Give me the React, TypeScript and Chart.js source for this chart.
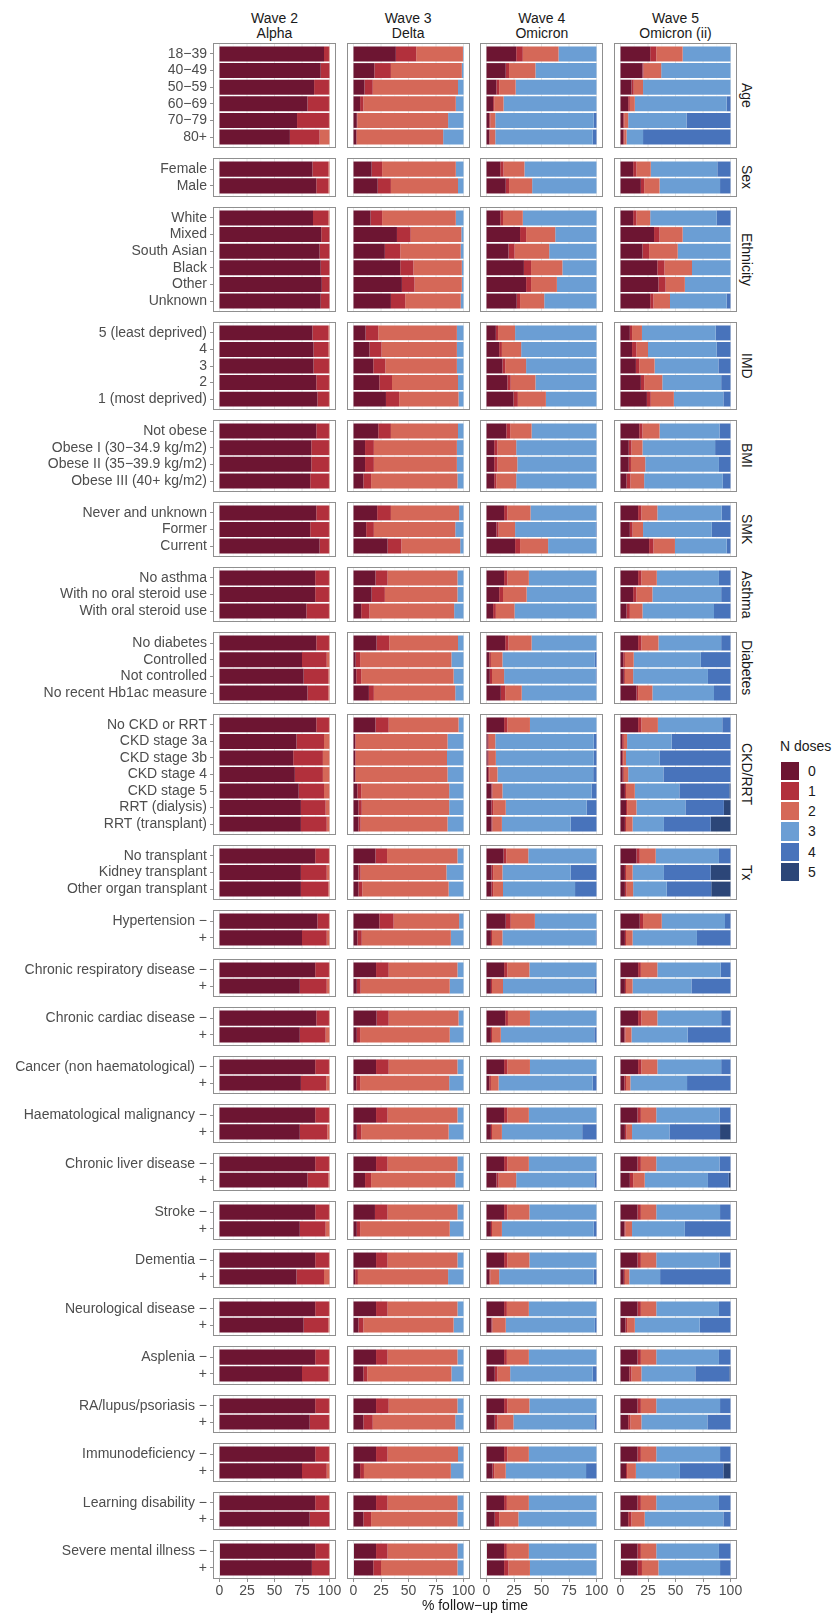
import React, { useEffect, useRef } from "react";
import { Chart, registerables } from "chart.js";

Chart.register(...registerables);

// ---------------- data ----------------
const WAVE_TITLES: string[][] = [
  ["Wave 2", "Alpha"],
  ["Wave 3", "Delta"],
  ["Wave 4", "Omicron"],
  ["Wave 5", "Omicron (ii)"],
];

const GROUP_NAMES: string[] = [
  "Age", "Sex", "Ethnicity", "IMD", "BMI", "SMK", "Asthma", "Diabetes", "CKD/RRT", "Tx",
  "", "", "", "", "", "", "", "", "", "", "", "", "", "",
];

const GROUP_SIZES: number[] = [6, 2, 6, 5, 4, 3, 3, 4, 7, 3, 2, 2, 2, 2, 2, 2, 2, 2, 2, 2, 2, 2, 2, 2];

const ROW_LABELS: string[] = [
  "18−39", "40−49", "50−59", "60−69", "70−79", "80+",
  "Female", "Male",
  "White", "Mixed", "South Asian", "Black", "Other", "Unknown",
  "5 (least deprived)", "4", "3", "2", "1 (most deprived)",
  "Not obese", "Obese I (30−34.9 kg/m2)", "Obese II (35−39.9 kg/m2)", "Obese III (40+ kg/m2)",
  "Never and unknown", "Former", "Current",
  "No asthma", "With no oral steroid use", "With oral steroid use",
  "No diabetes", "Controlled", "Not controlled", "No recent Hb1ac measure",
  "No CKD or RRT", "CKD stage 3a", "CKD stage 3b", "CKD stage 4", "CKD stage 5", "RRT (dialysis)", "RRT (transplant)",
  "No transplant", "Kidney transplant", "Other organ transplant",
  "Hypertension −", "+",
  "Chronic respiratory disease −", "+",
  "Chronic cardiac disease −", "+",
  "Cancer (non haematological) −", "+",
  "Haematological malignancy −", "+",
  "Chronic liver disease −", "+",
  "Stroke −", "+",
  "Dementia −", "+",
  "Neurological disease −", "+",
  "Asplenia −", "+",
  "RA/lupus/psoriasis −", "+",
  "Immunodeficiency −", "+",
  "Learning disability −", "+",
  "Severe mental illness −", "+",
];

const DOSE_LABELS: string[] = ["0", "1", "2", "3", "4", "5"];
const DOSE_COLORS: string[] = ["#6d1532", "#b2303c", "#d56858", "#6b9ed4", "#4873bb", "#2c4678"];
const X_TICKS: number[] = [0, 25, 50, 75, 100];
const X_MINOR: number[] = [12.5, 37.5, 62.5, 87.5];
const X_TITLE = "% follow−up time";
const LEGEND_TITLE = "N doses";

// % follow-up time spent with 0..5 doses, one row per category (order of ROW_LABELS)
const WAVE2: number[][] = [
  [95, 4.5, 0.5], [92, 8], [86, 13.5, 0.5], [80, 19.5, 0.5], [70.5, 29, 0.5], [64, 27, 9],
  [84.5, 14.5, 1], [88, 11, 1],
  [85, 14, 1], [92.5, 7.5], [91, 9], [92, 8], [93, 7], [92, 8],
  [84.5, 14.5, 1], [85.5, 13.5, 1], [85.5, 14, 0.5], [88, 11.5, 0.5], [89, 10.5, 0.5],
  [88, 11.5, 0.5], [83.5, 16, 0.5], [83.5, 16, 0.5], [82.5, 17, 0.5],
  [88, 11.5, 0.5], [82.5, 17, 0.5], [91, 8.5, 0.5],
  [87, 12.5, 0.5], [87, 12.5, 0.5], [79, 20.5, 0.5],
  [88, 11.5, 0.5], [75, 22.5, 2.5], [76.5, 22.5, 1], [80, 19, 1],
  [88, 11.5, 0.5], [70, 25, 5], [67, 27, 6], [68.5, 25.5, 6], [72, 23, 5], [74, 22.5, 3.5], [74, 23.5, 2.5],
  [87, 12.5, 0.5], [74, 23.5, 2.5], [74, 25, 1],
  [89, 10.5, 0.5], [75, 22.5, 2.5],
  [87, 12.5, 0.5], [73, 24.5, 2.5],
  [88, 11.5, 0.5], [73, 23.5, 3.5],
  [87, 12.5, 0.5], [74, 23, 3],
  [87, 12.5, 0.5], [73, 25, 2],
  [87, 12.5, 0.5], [80, 19, 1],
  [87, 12.5, 0.5], [73, 23.5, 3.5],
  [87, 12.5, 0.5], [70, 25, 5],
  [87, 12.5, 0.5], [76.5, 22.5, 1],
  [87, 12.5, 0.5], [75, 24, 1],
  [87, 12.5, 0.5], [82, 17.5, 0.5],
  [87, 12.5, 0.5], [75, 22.5, 2.5],
  [87, 12.5, 0.5], [82, 18],
  [87, 12.5, 0.5], [84, 16],
];

const WAVE3: number[][] = [
  [38.5, 18.5, 42.5, 0.5], [19, 15, 64.5, 1.5], [10, 7.5, 77.5, 5], [6, 3, 84, 7], [3, 0.5, 82.5, 14], [2.5, 0.5, 78.5, 18.5],
  [16.5, 9.5, 67, 7], [22, 12, 61, 5],
  [15.5, 10.5, 67, 7], [39.5, 12.5, 46, 2], [28.5, 14, 55, 2.5], [42.5, 12, 44, 1.5], [44, 11.5, 43, 1.5], [34, 13, 50.5, 2.5],
  [11, 11.5, 71.5, 6], [14.5, 11, 68.5, 6], [18, 11, 65, 6], [23.5, 11.5, 60, 5], [29.5, 12, 54, 4.5],
  [22.5, 11.5, 61, 5], [10.5, 8, 75.5, 6], [10.5, 8, 75.5, 6], [9, 7, 78.5, 5.5],
  [21.5, 12.5, 62, 4], [11.5, 7, 74, 7.5], [31, 12.5, 53.5, 3],
  [20, 11, 63.5, 5.5], [16.5, 12, 66, 5.5], [7, 7.5, 77, 8.5],
  [21, 11.5, 62.5, 5], [2, 4, 83, 11], [2.5, 4.5, 84, 9], [14, 4.5, 74, 7.5],
  [20, 12, 63.5, 4.5], [1.5, 0.5, 83.5, 14.5], [1.5, 0.5, 83, 15], [1.5, 0.5, 83.5, 14.5], [3.5, 3.5, 80, 13], [4.5, 3, 79.5, 13], [4.5, 2, 79, 14.5],
  [20, 10.5, 64, 5.5], [4.5, 2, 78, 15.5], [4.5, 3.5, 78.5, 13.5],
  [23.5, 13, 59.5, 4], [3.5, 4, 81, 11.5],
  [20.5, 11.5, 62.5, 5.5], [3, 3.5, 81, 12.5],
  [21, 11, 63.5, 4.5], [3, 3, 81.5, 12.5],
  [20.5, 11.5, 62.5, 5.5], [2.5, 3.5, 81, 13],
  [20.5, 10.5, 63.5, 5.5], [3, 4, 79.5, 13.5],
  [20.5, 10.5, 63.5, 5.5], [10.5, 5.5, 76.5, 7.5],
  [19.5, 11.5, 63.5, 5.5], [3, 3, 81.5, 12.5],
  [20.5, 10.5, 63.5, 5.5], [1.5, 2.5, 82, 14],
  [20.5, 10.5, 63.5, 5.5], [4.5, 4.5, 82, 9],
  [20.5, 10.5, 63.5, 5.5], [9, 3.5, 76.5, 11],
  [20.5, 11.5, 62.5, 5.5], [9, 8.5, 75, 7.5],
  [20.5, 10.5, 64, 5], [6, 3.5, 79, 11.5],
  [20.5, 10.5, 63.5, 5.5], [9, 7, 78.5, 5.5],
  [20.5, 10.5, 63.5, 5.5], [18, 7, 69.5, 5.5],
];

const WAVE4: number[][] = [
  [27, 6, 32.5, 34.5], [17.5, 3, 24, 55.5], [9, 2.5, 15, 73.5], [6, 1, 8.5, 84.5], [2.5, 1, 4.5, 89.5, 2.5], [2.5, 0.5, 5, 88.5, 3.5],
  [12.5, 3, 19, 65.5], [17.5, 3, 21, 58.5],
  [12.5, 2.5, 18, 67], [30.5, 5.5, 26.5, 37.5], [20, 5.5, 31.5, 43], [34, 6.5, 28.5, 31], [36, 4.5, 23.5, 36], [27.5, 3, 22, 47.5],
  [8.5, 2, 15.5, 74], [11.5, 2.5, 17.5, 68.5], [14.5, 2.5, 19, 64], [19, 3, 22.5, 55.5], [24.5, 4, 25.5, 46],
  [18, 3.5, 19.5, 59], [7, 3, 17, 73], [7, 3, 18, 72], [7, 2, 18, 73],
  [16, 3, 21, 60], [9, 2, 15, 73.5, 0.5], [26, 4.5, 25.5, 44],
  [16, 3, 19.5, 61.5], [11.5, 3.5, 21.5, 63.5], [6, 2.5, 17, 74, 0.5],
  [17, 3, 21, 59], [2.5, 1.5, 10.5, 84, 1.5], [3, 2, 11, 83.5, 0.5], [13, 4, 15, 68],
  [16, 3, 20.5, 60.5], [1, 1, 6, 89.5, 2.5], [1, 1, 6.5, 89, 2.5], [1.5, 1, 7.5, 87, 3], [4.5, 1, 9, 81, 4.5], [4.5, 1.5, 11.5, 73.5, 9], [4.5, 1, 8.5, 62.5, 23.5],
  [15.5, 2.5, 20, 62], [4.5, 1.5, 8.5, 62, 23.5], [4.5, 1.5, 9, 65.5, 19.5],
  [17.5, 4.5, 22, 56], [4, 1, 9.5, 85, 0.5],
  [16, 3, 20, 61], [4, 1, 10, 83, 2],
  [17, 2.5, 20, 60.5], [4, 1, 8, 85, 2],
  [16, 3, 20.5, 60.5], [2.5, 1.5, 7, 85.5, 3.5],
  [16, 3, 19.5, 61.5], [4, 1, 9, 73, 13],
  [16, 3, 19.5, 61.5], [9, 2, 16, 71, 2],
  [16, 3, 20, 61], [4, 1, 9, 83.5, 2.5],
  [16, 3, 20, 61], [2.5, 1, 8, 86, 2.5],
  [16, 2.5, 20, 61.5], [4.5, 1, 12, 81, 1.5],
  [16, 2.5, 20, 61.5], [7.5, 2.5, 11.5, 75, 3.5],
  [16, 3, 20, 61], [7.5, 2.5, 14.5, 73.5, 2],
  [16, 3, 19.5, 61.5], [5.5, 1.5, 10.5, 73, 9.5],
  [16, 2.5, 20, 61.5], [7.5, 4, 17.5, 71],
  [16, 2.5, 20, 61.5], [16, 4, 19.5, 60.5],
];

const WAVE5: number[][] = [
  [27, 5.5, 24, 43.5], [20, 1, 16, 63], [10, 2, 8.5, 79.5], [7, 1.5, 4.5, 83.5, 3.5], [2.5, 1, 3.5, 53, 40], [2.5, 1, 2, 15, 79.5],
  [11.5, 3, 13, 60.5, 12], [18.5, 3, 14, 55, 9.5],
  [11.5, 3, 12.5, 60.5, 12.5], [30.5, 5, 21, 43.5], [20, 6, 26, 48], [33.5, 6.5, 25, 35], [34.5, 6.5, 17.5, 41.5], [27, 3, 15, 51.5, 3.5],
  [8.5, 2, 9, 67, 13.5], [10.5, 4, 10.5, 62.5, 12.5], [14, 3, 14, 58, 11], [18.5, 3, 16.5, 53.5, 8.5], [24, 3.5, 21, 45, 6.5],
  [17, 3, 15.5, 54.5, 10], [7.5, 2.5, 10, 66, 14], [7.5, 2, 13, 67, 10.5], [5.5, 3.5, 12.5, 71.5, 7],
  [16, 3, 14.5, 58.5, 8], [8.5, 2.5, 9.5, 62.5, 17], [26, 4, 19.5, 47, 3.5],
  [16, 3, 14, 56.5, 10.5], [11.5, 3, 14.5, 62.5, 8.5], [5.5, 3, 11.5, 65, 15],
  [16, 3, 15.5, 57, 8.5], [2.5, 1.5, 8, 61, 27], [3, 1, 7.5, 68, 20.5], [14.5, 1.5, 13, 56, 15],
  [16, 3, 15, 58.5, 7.5], [1.5, 1.5, 3, 40.5, 53.5], [1.5, 1, 2.5, 30.5, 64.5], [2, 1, 4, 32, 61], [4, 1, 8, 40.5, 45.5, 1], [5, 1, 8.5, 44.5, 35, 6], [4, 1, 6, 28.5, 42.5, 18],
  [14.5, 3, 14.5, 57.5, 10.5], [4, 1, 6, 28.5, 42.5, 18], [4, 1.5, 6, 30.5, 40.5, 17.5],
  [17.5, 3, 17, 57.5, 5], [4, 1, 6, 58.5, 30.5],
  [16, 2.5, 15, 57.5, 9], [4, 1, 6, 53.5, 35.5],
  [16, 3, 14.5, 58, 8.5], [3.5, 1, 5.5, 51, 39],
  [16, 3, 14.5, 58, 8.5], [3.5, 1.5, 4, 51.5, 39.5],
  [15.5, 3, 14, 57.5, 10], [4, 1.5, 5, 34, 46, 9.5],
  [15.5, 3, 14, 57.5, 10], [8.5, 3, 10.5, 57.5, 19, 1.5],
  [15.5, 3, 14, 58, 9.5], [3.5, 1, 6, 48, 41.5],
  [15.5, 3, 14, 57.5, 10], [3, 1, 4, 28, 64],
  [15.5, 3, 14, 57, 10.5], [4.5, 1.5, 7, 59, 28],
  [15.5, 3, 14, 57, 10.5], [8, 2, 9, 49, 31, 1],
  [15.5, 3, 14, 58, 9.5], [7, 2, 10, 60, 21],
  [15.5, 3, 14, 58, 9.5], [5, 1, 8, 40, 39.5, 6.5],
  [15.5, 3, 14, 57, 10.5], [7, 3, 12, 71.5, 6.5],
  [15.5, 3, 14, 57, 10.5], [15.5, 4, 15, 56, 9.5],
];

const WAVE_DATA: number[][][] = [WAVE2, WAVE3, WAVE4, WAVE5];

// ---------------- layout ----------------
const FONT = "'Liberation Sans', Arial, Helvetica, sans-serif";
const PANEL_TOP = 44.3;
const ROW_PITCH = 16.62;
const PANEL_GAP = 11.9;
const COL_LEFT0 = 214;
const COL_PITCH = 133.67;
const PANEL_W = 121;
const AXIS_H = 24;
const AXIS_SIDE = 14;
const X_MIN = -5;
const X_MAX = 105;
const TEXT_DARK = "#1a1a1a";
const TEXT_AXIS = "#4d4d4d";
const FRAME = "#8f8f8f";

const GROUP_STARTS: number[] = [];
const GROUP_TOPS: number[] = [];
const GROUP_BOTTOMS: number[] = [];
(() => {
  let y = PANEL_TOP;
  let s = 0;
  GROUP_SIZES.forEach((n) => {
    GROUP_STARTS.push(s);
    GROUP_TOPS.push(y);
    const b = y + (n + 0.2) * ROW_PITCH;
    GROUP_BOTTOMS.push(b);
    y = b + PANEL_GAP;
    s += n;
  });
})();

const framePlugin = {
  id: "panelFrame",
  beforeDatasetsDraw(chart: any) {
    const { ctx, chartArea: a, scales } = chart;
    const x = scales.x;
    ctx.save();
    ctx.beginPath();
    ctx.rect(a.left, a.top, a.right - a.left, a.bottom - a.top);
    ctx.clip();
    ctx.strokeStyle = "#f3f3f3";
    ctx.lineWidth = 0.6;
    X_MINOR.forEach((v) => {
      const px = x.getPixelForValue(v);
      ctx.beginPath();
      ctx.moveTo(px, a.top);
      ctx.lineTo(px, a.bottom);
      ctx.stroke();
    });
    ctx.strokeStyle = "#e6e6e6";
    ctx.lineWidth = 1;
    X_TICKS.forEach((v) => {
      const px = x.getPixelForValue(v);
      ctx.beginPath();
      ctx.moveTo(px, a.top);
      ctx.lineTo(px, a.bottom);
      ctx.stroke();
    });
    ctx.restore();
  },
  afterDatasetsDraw(chart: any) {
    const { ctx, chartArea: a } = chart;
    ctx.save();
    ctx.strokeStyle = FRAME;
    ctx.lineWidth = 1;
    ctx.strokeRect(a.left - 0.5, a.top - 0.5, a.right - a.left + 1, a.bottom - a.top + 1);
    ctx.restore();
  },
};

function Panel({ wave, group }: { wave: number; group: number }) {
  const ref = useRef<HTMLCanvasElement | null>(null);
  const n = GROUP_SIZES[group];
  const start = GROUP_STARTS[group];
  const isFirst = wave === 0;
  const isLast = group === GROUP_SIZES.length - 1;
  const side = isLast ? AXIS_SIDE : 0;
  const t = Math.round(GROUP_TOPS[group]);
  const b = Math.round(GROUP_BOTTOMS[group]);
  const l = Math.round(COL_LEFT0 + wave * COL_PITCH);
  const r = Math.round(COL_LEFT0 + wave * COL_PITCH + PANEL_W);
  const padLeft = isFirst ? 0 : 1 + side;
  const padRight = 1 + side;
  const canvasLeft = isFirst ? 0 : l - padLeft;
  const canvasTop = t - 1;
  const cw = r + padRight - canvasLeft;
  const ch = b - t + 1 + (isLast ? AXIS_H : 1);

  useEffect(() => {
    const labels = ROW_LABELS.slice(start, start + n);
    const rows = WAVE_DATA[wave].slice(start, start + n);
    const yMin = -0.6;
    const yMax = n - 0.4;
    const datasets = DOSE_LABELS.map((d, k) => ({
      label: d,
      data: rows.map((row, i) => ({ x: row[k] ?? 0, y: i })),
      backgroundColor: DOSE_COLORS[k],
      borderWidth: 0,
      barPercentage: 0.9,
      categoryPercentage: 1,
    }));
    const chart = new Chart(ref.current as HTMLCanvasElement, {
      type: "bar",
      data: { datasets } as any,
      options: {
        indexAxis: "y",
        responsive: false,
        animation: false,
        layout: { autoPadding: false, padding: { left: padLeft, right: padRight, top: 1, bottom: isLast ? 0 : 1 } },
        plugins: { legend: { display: false }, tooltip: { enabled: false } },
        scales: {
          x: {
            type: "linear",
            min: X_MIN,
            max: X_MAX,
            grace: 0,
            offset: false,
            stacked: true,
            display: isLast,
            afterBuildTicks: (s: any) => {
              s.ticks = X_TICKS.map((v) => ({ value: v }));
              s.min = X_MIN;
              s.max = X_MAX;
            },
            afterFit: (s: any) => {
              if (isLast) s.height = AXIS_H;
              s.paddingLeft = 0;
              s.paddingRight = 0;
              s.paddingTop = 0;
              s.paddingBottom = 0;
            },
            grid: { offset: false, drawOnChartArea: false, drawTicks: true, tickLength: 4, tickColor: FRAME, tickWidth: 1 },
            border: { display: false },
            ticks: {
              font: { family: FONT, size: 14 },
              color: TEXT_AXIS,
              padding: 1,
              maxRotation: 0,
              autoSkip: false,
              callback: (v: any) => String(v),
            },
          },
          y: {
            type: "linear",
            reverse: true,
            min: yMin,
            max: yMax,
            grace: 0,
            offset: false,
            stacked: true,
            display: isFirst,
            afterBuildTicks: (s: any) => {
              s.ticks = labels.map((_, i) => ({ value: i }));
              s.min = yMin;
              s.max = yMax;
            },
            afterFit: (s: any) => {
              if (isFirst) s.width = l;
              s.paddingLeft = 0;
              s.paddingRight = 0;
              s.paddingTop = 0;
              s.paddingBottom = 0;
            },
            grid: { offset: false, drawOnChartArea: false, drawTicks: true, tickLength: 4, tickColor: FRAME, tickWidth: 1 },
            border: { display: false },
            ticks: {
              font: { family: FONT, size: 14 },
              color: TEXT_AXIS,
              padding: 3,
              autoSkip: false,
              callback: (v: any) => labels[v] ?? "",
            },
          },
        },
      } as any,
      plugins: [framePlugin],
    });
    return () => chart.destroy();
  }, []);

  return (
    <canvas
      ref={ref}
      width={cw}
      height={ch}
      style={{ position: "absolute", left: canvasLeft, top: canvasTop, width: cw, height: ch }}
    />
  );
}

export default function App() {
  const panels: React.ReactNode[] = [];
  for (let w = 0; w < 4; w++) {
    for (let g = 0; g < GROUP_SIZES.length; g++) {
      panels.push(<Panel key={`${w}-${g}`} wave={w} group={g} />);
    }
  }
  const panelsLeft = COL_LEFT0;
  const panelsRight = COL_LEFT0 + 3 * COL_PITCH + PANEL_W;
  return (
    <div
      style={{
        position: "absolute",
        left: 0,
        top: 0,
        width: 833,
        height: 1613,
        background: "#ffffff",
        fontFamily: FONT,
        overflow: "hidden",
      }}
    >
      {WAVE_TITLES.map((lines, w) => (
        <div
          key={`title-${w}`}
          style={{
            position: "absolute",
            left: COL_LEFT0 + w * COL_PITCH,
            width: PANEL_W,
            top: 10.5,
            textAlign: "center",
            fontSize: 14,
            lineHeight: "15px",
            color: TEXT_DARK,
          }}
        >
          {lines.map((s, i) => (
            <div key={i}>{s}</div>
          ))}
        </div>
      ))}
      {panels}
      {GROUP_NAMES.map((name, g) =>
        name ? (
          <div
            key={`strip-${g}`}
            style={{
              position: "absolute",
              left: 738,
              width: 18,
              top: GROUP_TOPS[g],
              height: GROUP_BOTTOMS[g] - GROUP_TOPS[g],
              writingMode: "vertical-rl",
              textAlign: "center",
              lineHeight: "18px",
              fontSize: 14,
              color: TEXT_DARK,
              whiteSpace: "nowrap",
            }}
          >
            {name}
          </div>
        ) : null
      )}
      <div
        style={{
          position: "absolute",
          left: 780,
          top: 738,
          fontSize: 14,
          lineHeight: "16px",
          color: TEXT_DARK,
          whiteSpace: "nowrap",
        }}
      >
        {LEGEND_TITLE}
      </div>
      {DOSE_LABELS.map((d, k) => (
        <React.Fragment key={`leg-${k}`}>
          <div
            style={{
              position: "absolute",
              left: 781,
              top: 761.5 + k * 20.3,
              width: 18.3,
              height: 18.3,
              background: DOSE_COLORS[k],
            }}
          />
          <div
            style={{
              position: "absolute",
              left: 808,
              top: 761.5 + k * 20.3,
              height: 18.3,
              lineHeight: "18.3px",
              fontSize: 14,
              color: TEXT_DARK,
            }}
          >
            {d}
          </div>
        </React.Fragment>
      ))}
      <div
        style={{
          position: "absolute",
          left: panelsLeft,
          width: panelsRight - panelsLeft,
          top: 1597,
          textAlign: "center",
          fontSize: 14,
          lineHeight: "16px",
          color: TEXT_DARK,
          whiteSpace: "nowrap",
        }}
      >
        {X_TITLE}
      </div>
    </div>
  );
}
